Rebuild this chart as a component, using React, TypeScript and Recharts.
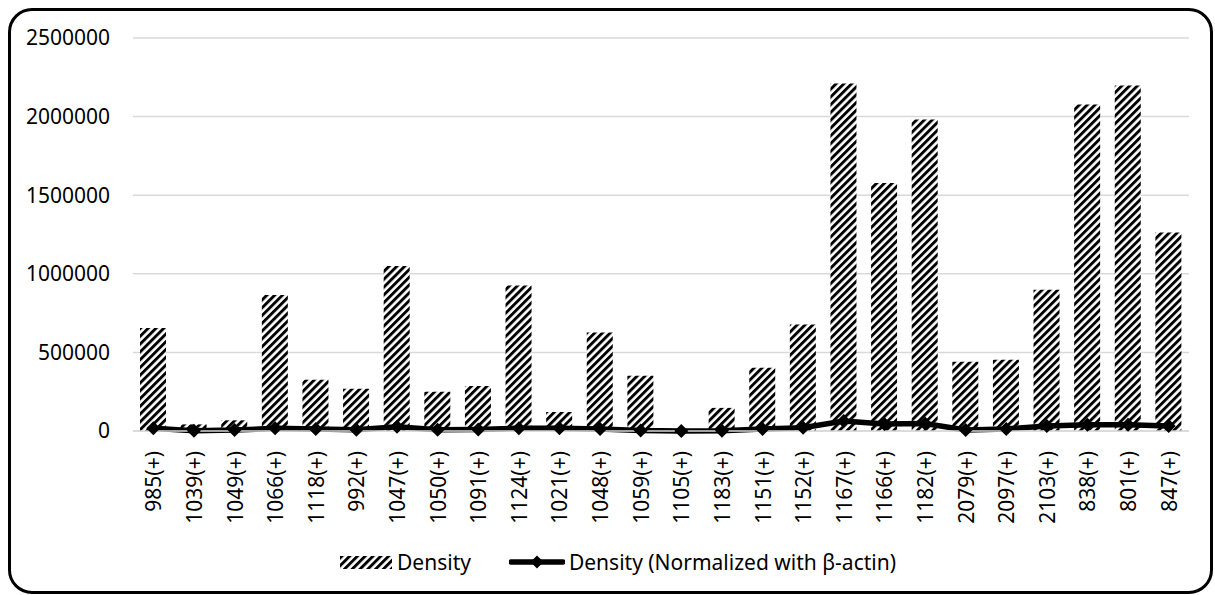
import React from "react";
import {
  ComposedChart,
  Bar,
  Line,
  XAxis,
  YAxis,
  CartesianGrid,
  Legend,
} from "recharts";

const categories = [
  "985(+)", "1039(+)", "1049(+)", "1066(+)", "1118(+)", "992(+)", "1047(+)",
  "1050(+)", "1091(+)", "1124(+)", "1021(+)", "1048(+)", "1059(+)", "1105(+)",
  "1183(+)", "1151(+)", "1152(+)", "1167(+)", "1166(+)", "1182(+)", "2079(+)",
  "2097(+)", "2103(+)", "838(+)", "801(+)", "847(+)",
];

const density = [
  655000, 42000, 68000, 865000, 326000, 268000, 1050000, 249000, 287000,
  925000, 121000, 626000, 351000, 0, 147000, 402000, 677000, 2210000, 1577000,
  1981000, 441000, 453000, 898000, 2077000, 2198000, 1262000,
];

const normalized = [
  17000, 2000, 6000, 17000, 13000, 8000, 27000, 8000, 10000, 17000, 17000,
  13000, 3000, 0, 1000, 13000, 21000, 64000, 45000, 47000, 6000, 13000, 32000,
  40000, 40000, 32000,
];

const yTicks = [0, 500000, 1000000, 1500000, 2000000, 2500000];

const FONT = "'Noto Sans', 'Open Sans', sans-serif";

const data = categories.map((name, i) => ({
  name,
  density: density[i],
  normalized: normalized[i],
}));

// rotated category labels, reading bottom-to-top
const XTick = (props: any) => {
  const { x, y, payload } = props;
  const ty = y + 12;
  return (
    <text
      x={x}
      y={ty}
      transform={`rotate(-90, ${x}, ${ty})`}
      textAnchor="end"
      dominantBaseline="central"
      fontSize={21}
      fontFamily={FONT}
      fill="#000"
    >
      {payload.value}
    </text>
  );
};

const Diamond = (props: any) => {
  const { cx, cy } = props;
  if (cx == null || cy == null) return null;
  const r = 7;
  return (
    <polygon
      points={`${cx},${cy - r} ${cx + r},${cy} ${cx},${cy + r} ${cx - r},${cy}`}
      fill="#000"
    />
  );
};

const LegendContent = () => (
  <div
    style={{
      display: "flex",
      alignItems: "center",
      paddingLeft: 340,
      fontFamily: FONT,
      fontSize: 21,
      color: "#000",
    }}
  >
    <svg width={52} height={13} style={{ marginRight: 5 }}>
      <defs>
        <pattern
          id="hatchLegend"
          patternUnits="userSpaceOnUse"
          width={5.5}
          height={5.5}
          patternTransform="rotate(45)"
        >
          <rect width={5.5} height={5.5} fill="#fff" />
          <rect width={2.9} height={5.5} fill="#000" />
        </pattern>
      </defs>
      <rect width={52} height={13} fill="url(#hatchLegend)" />
    </svg>
    <span style={{ marginRight: 38 }}>Density</span>
    <svg width={56} height={14} style={{ marginRight: 4 }}>
      <line x1={2} y1={7} x2={54} y2={7} stroke="#000" strokeWidth={5.5} strokeLinecap="round" />
      <polygon points="28,0.5 34.5,7 28,13.5 21.5,7" fill="#000" />
    </svg>
    <span>Density (Normalized with β-actin)</span>
  </div>
);

export default function App() {
  return (
    <div
      style={{
        position: "absolute",
        left: 0,
        top: 0,
        width: 1215,
        height: 595,
        background: "#fff",
      }}
    >
      <div
        style={{
          position: "absolute",
          left: 8,
          top: 8,
          width: 1205,
          height: 586,
          border: "3px solid #000",
          borderRadius: 24,
          boxSizing: "border-box",
        }}
      />
      <ComposedChart
        width={1215}
        height={595}
        data={data}
        margin={{ top: 38, right: 26, left: 0, bottom: 54 }}
        style={{ position: "absolute", left: 0, top: 0 }}
      >
        <defs>
          <pattern
            id="hatchBar"
            patternUnits="userSpaceOnUse"
            width={5.5}
            height={5.5}
            patternTransform="rotate(45)"
          >
            <rect width={5.5} height={5.5} fill="#fff" />
            <rect width={2.9} height={5.5} fill="#000" />
          </pattern>
        </defs>
        <CartesianGrid vertical={false} stroke="#d9d9d9" strokeWidth={1.5} />
        <XAxis
          dataKey="name"
          interval={0}
          height={110}
          tick={<XTick />}
          tickLine={false}
          axisLine={{ stroke: "#d9d9d9", strokeWidth: 1.5 }}
        />
        <YAxis
          width={133}
          domain={[0, 2500000]}
          ticks={yTicks}
          tickSize={0}
          tickMargin={23}
          tickLine={false}
          axisLine={false}
          tick={{ fontSize: 21, fontFamily: FONT, fill: "#000" }}
        />
        <Bar
          dataKey="density"
          name="Density"
          barSize={26}
          fill="url(#hatchBar)"
          isAnimationActive={false}
        />
        <Line
          dataKey="normalized"
          name="Density (Normalized with β-actin)"
          type="linear"
          stroke="#000"
          strokeWidth={5.5}
          dot={<Diamond />}
          activeDot={false}
          isAnimationActive={false}
        />
        <Legend
          verticalAlign="middle"
          align="center"
          content={<LegendContent />}
          wrapperStyle={{ top: 548, left: 0, width: 1215 }}
        />
      </ComposedChart>
    </div>
  );
}
